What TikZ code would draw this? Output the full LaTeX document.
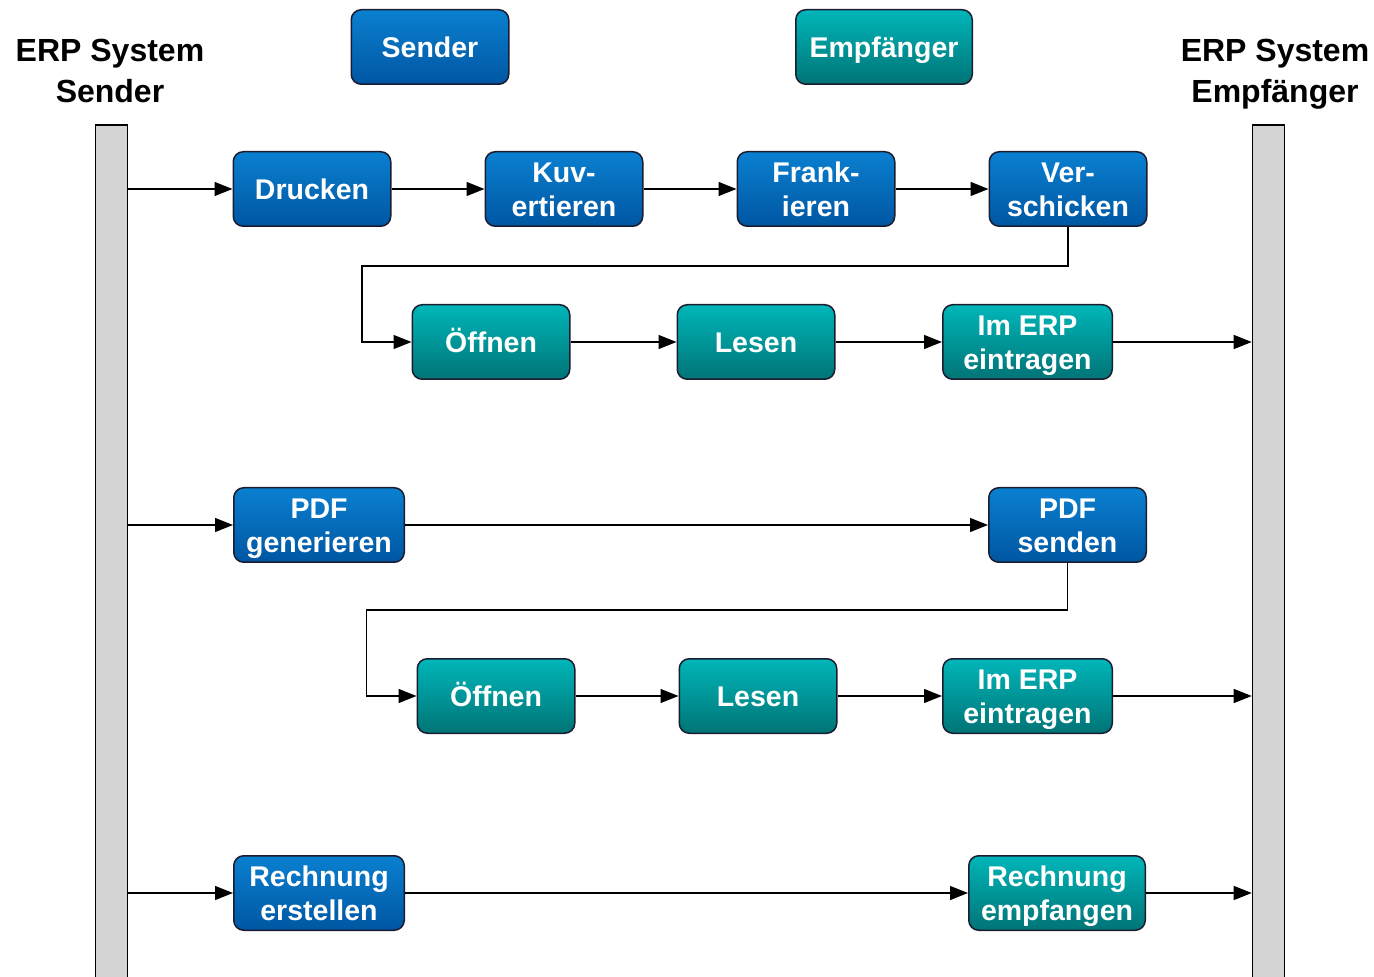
\documentclass[tikz,border=0pt]{standalone}
\usepackage{fontspec}
\setmainfont{Liberation Sans}
\usepackage{xcolor}
\usepackage{tikz}
\usetikzlibrary{positioning, arrows.meta, shapes.geometric}
\definecolor{sendtop}{HTML}{0A80D0}
\definecolor{sendbot}{HTML}{0056A2}
\definecolor{recvtop}{HTML}{00B6B9}
\definecolor{recvbot}{HTML}{007476}
\definecolor{boxline}{HTML}{1C1C30}
\definecolor{lanegray}{HTML}{D4D4D4}
\tikzstyle{sendbox} = [rectangle,
rounded corners=5pt,
minimum width=78.75pt,
minimum height=37.25pt,
inner sep=2pt,
text height=10.5pt, text depth=0.3pt,
text centered, align=center,
draw=boxline, line width=0.75pt,
top color=sendtop, bottom color=sendbot,
text=white,
font=\bfseries\fontsize{14.25}{17}\selectfont]
\tikzstyle{recvbox} = [sendbox, top color=recvtop, bottom color=recvbot]
\tikzstyle{twoline} = [text height=27.5pt]
\tikzstyle{lane} = [rectangle, draw=black, fill=lanegray, line width=0.8pt,
minimum width=16pt, minimum height=434pt, inner sep=0pt]
\tikzstyle{title} = [align=center, text height=32.5pt, text depth=0.5pt,
font=\bfseries\fontsize{16}{20.5}\selectfont]
\tikzstyle{arrow} = [line width=0.7pt, -{Triangle[length=9pt,width=7pt]}]

\begin{document}
\begin{tikzpicture}[x=0.5pt, y=-0.5pt]
  \useasboundingbox (0,0) rectangle (1374,977);

  % lanes and headers
  \node (erpS) [title] at (110,70.5) {ERP System\\Sender};
  \node (erpE) [title] at (1275,70.5) {ERP System\\Empfänger};
  \node (barL) [lane] at (111.5,559) {};
  \node (barR) [lane] at (1268.5,559) {};
  \node (sender) [sendbox] at (430,47) {Sender};
  \node (empf) [recvbox, minimum width=88.25pt] at (884,47) {Empfänger};

  % Brief
  \node (drucken) [sendbox] at (312,189) {Drucken};
  \node (kuv) [sendbox, twoline, right=46.5pt of drucken] {Kuv-\\ertieren};
  \node (frank) [sendbox, twoline, right=46.5pt of kuv] {Frank-\\ieren};
  \node (versch) [sendbox, twoline, right=46.5pt of frank] {Ver-\\schicken};
  \node (oeffnenA) [recvbox] at (491,342) {Öffnen};
  \node (lesenA) [recvbox, right=53pt of oeffnenA] {Lesen};
  \node (erpA) [recvbox, twoline, minimum width=84.75pt] at (1027.5,342) {Im ERP\\eintragen};

  \draw [arrow] (barL.east |- drucken.west) -- (drucken.west);
  \draw [arrow] (drucken) -- (kuv);
  \draw [arrow] (kuv) -- (frank);
  \draw [arrow] (frank) -- (versch);
  \draw [arrow] (versch.south) |- ++(-706,39) |- (oeffnenA.west);
  \draw [arrow] (oeffnenA) -- (lesenA);
  \draw [arrow] (lesenA) -- (erpA);
  \draw [arrow] (erpA.east) -- (erpA.east -| barR.west);

  % PDF
  \node (pdfgen) [sendbox, twoline, minimum width=85.25pt] at (319,525) {PDF\\generieren};
  \node (pdfsend) [sendbox, twoline] at (1067.5,525) {PDF\\senden};
  \node (oeffnenB) [recvbox] at (496,696) {Öffnen};
  \node (lesenB) [recvbox, right=51.5pt of oeffnenB] {Lesen};
  \node (erpB) [recvbox, twoline, minimum width=84.75pt] at (1027.5,696) {Im ERP\\eintragen};

  \draw [arrow] (barL.east |- pdfgen.west) -- (pdfgen.west);
  \draw [arrow] (pdfgen) -- (pdfsend);
  \draw [arrow] (pdfsend.south) |- ++(-701,47) |- (oeffnenB.west);
  \draw [arrow] (oeffnenB) -- (lesenB);
  \draw [arrow] (lesenB) -- (erpB);
  \draw [arrow] (erpB.east) -- (erpB.east -| barR.west);

  % Rechnung
  \node (rgerst) [sendbox, twoline, minimum width=85.25pt] at (319,893) {Rechnung\\erstellen};
  \node (rgempf) [recvbox, twoline, minimum width=88.25pt] at (1057,893) {Rechnung\\empfangen};

  \draw [arrow] (barL.east |- rgerst.west) -- (rgerst.west);
  \draw [arrow] (rgerst) -- (rgempf);
  \draw [arrow] (rgempf.east) -- (rgempf.east -| barR.west);

\end{tikzpicture}
\end{document}
